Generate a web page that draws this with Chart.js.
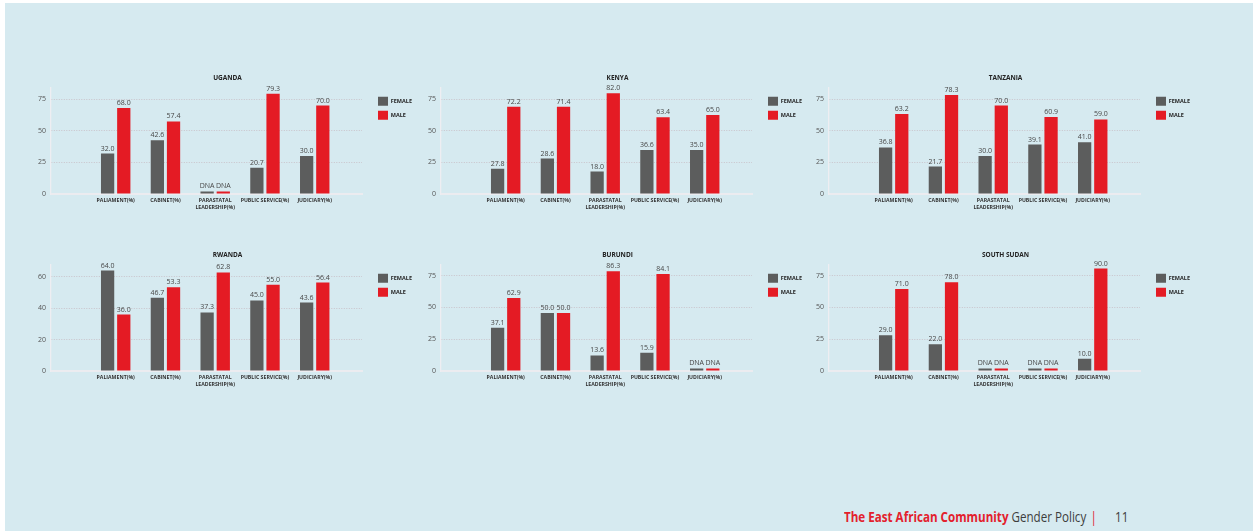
<!DOCTYPE html>
<html>
<head>
<meta charset="utf-8">
<script src="https://cdn.jsdelivr.net/npm/chart.js@4.4.1/dist/chart.umd.min.js"></script>
<style>
  body { margin: 0; width: 1253px; height: 531px; background: #fff; overflow: hidden; position: relative; font-family: "Open Sans", sans-serif; }
  #page { position: absolute; left: 5px; top: 3px; right: 0; bottom: 0; background: #d6eaf0; }
  .box { position: absolute; width: 397px; height: 145px; }
  #footer { position: absolute; left: 844px; top: 507px; font-family: "Open Sans", sans-serif; font-size: 14px; color: #3d3d3d; white-space: nowrap; transform: scaleX(0.83); transform-origin: 0 0; }
  #footer .red { color: #e3202c; font-weight: bold; }
  #footer .bar { color: #e3202c; margin-left: 5px; }
  #footer .num { margin-left: 22px; }
</style>
</head>
<body>
<div id="page"></div>
<div class="box" style="left:29px; top:71px"><canvas id="uganda"></canvas></div>
<div class="box" style="left:419px; top:71px"><canvas id="kenya"></canvas></div>
<div class="box" style="left:807px; top:71px"><canvas id="tanzania"></canvas></div>
<div class="box" style="left:29px; top:248px"><canvas id="rwanda"></canvas></div>
<div class="box" style="left:419px; top:248px"><canvas id="burundi"></canvas></div>
<div class="box" style="left:807px; top:248px"><canvas id="southsudan"></canvas></div>
<div id="footer"><span class="red">The East African Community</span> Gender Policy<span class="bar">|</span><span class="num">11</span></div>
<script>
const categories = ['PALIAMENT(%)', 'CABINET(%)', ['PARASTATAL', 'LEADERSHIP(%)'], 'PUBLIC SERVICE(%)', 'JUDICIARY(%)'];

// bar heights as drawn; DNA (data not available) bars are drawn as a small stub
// in Kenya, Burundi and South Sudan the source draws bars shorter than the printed labels
const ugandaFemale = [32.0, 42.6, 2, 20.7, 30.0];
const ugandaMale = [68.0, 57.4, 2, 79.3, 70.0];
const ugandaFemaleText = ['32.0', '42.6', 'DNA', '20.7', '30.0'];
const ugandaMaleText = ['68.0', '57.4', 'DNA', '79.3', '70.0'];

const kenyaFemale = [20.0, 28.0, 17.7, 34.8, 34.8];
const kenyaMale = [69.1, 69.1, 79.7, 60.7, 62.5];
const kenyaFemaleText = ['27.8', '28.6', '18.0', '36.6', '35.0'];
const kenyaMaleText = ['72.2', '71.4', '82.0', '63.4', '65.0'];

const tanzaniaFemale = [36.8, 21.7, 30.0, 39.1, 41.0];
const tanzaniaMale = [63.2, 78.3, 70.0, 60.9, 59.0];
const tanzaniaFemaleText = ['36.8', '21.7', '30.0', '39.1', '41.0'];
const tanzaniaMaleText = ['63.2', '78.3', '70.0', '60.9', '59.0'];

const rwandaFemale = [64.0, 46.7, 37.3, 45.0, 43.6];
const rwandaMale = [36.0, 53.3, 62.8, 55.0, 56.4];
const rwandaFemaleText = ['64.0', '46.7', '37.3', '45.0', '43.6'];
const rwandaMaleText = ['36.0', '53.3', '62.8', '55.0', '56.4'];

const burundiFemale = [34.1, 45.7, 12.3, 14.4, 2];
const burundiMale = [57.5, 45.7, 78.5, 76.4, 2];
const burundiFemaleText = ['37.1', '50.0', '13.6', '15.9', 'DNA'];
const burundiMaleText = ['62.9', '50.0', '86.3', '84.1', 'DNA'];

const southSudanFemale = [28.1, 21.0, 2, 2, 9.7];
const southSudanMale = [64.6, 69.8, 2, 2, 80.6];
const southSudanFemaleText = ['29.0', '22.0', 'DNA', 'DNA', '10.0'];
const southSudanMaleText = ['71.0', '78.0', 'DNA', 'DNA', '90.0'];

const FONT = 'Open Sans';
const GREY = '#5c5d5d';
const RED = '#e41b24';

// value labels above each bar
const barLabels = {
    id: 'barLabels',
    afterDatasetsDraw(chart) {
        const ctx = chart.ctx;
        ctx.save();
        ctx.font = '7px "' + FONT + '"';
        ctx.fillStyle = '#474747';
        ctx.textAlign = 'center';
        ctx.textBaseline = 'bottom';
        chart.data.datasets.forEach((ds, di) => {
            chart.getDatasetMeta(di).data.forEach((bar, i) => {
                ctx.fillText(ds.texts[i], bar.x, bar.y - 1.5);
            });
        });
        ctx.restore();
    }
};

// keep the legend a fixed width and set it a little away from the plot
const legendSpacing = {
    id: 'legendSpacing',
    afterInit(chart) {
        const legend = chart.legend;
        const fit = legend.fit;
        legend.fit = function () { fit.call(this); this.width = 64; };
    },
    afterLayout(chart) {
        chart.legend.left += 11;
        chart.legend.top += 4.4;
    }
};

function drawCountry(id, title, female, femaleText, male, maleText, yMax, yStep) {
    new Chart(document.getElementById(id), {
        type: 'bar',
        data: {
            datasets: [
                {
                    label: 'FEMALE',
                    data: female.map((v, i) => ({ x: i, y: v })),
                    texts: femaleText,
                    backgroundColor: GREY
                },
                {
                    label: 'MALE',
                    data: male.map((v, i) => ({ x: i, y: v })),
                    texts: maleText,
                    backgroundColor: RED
                }
            ]
        },
        options: {
            responsive: true,
            maintainAspectRatio: false,
            animation: false,
            categoryPercentage: 0.65,
            barPercentage: 0.82,
            plugins: {
                title: {
                    display: true,
                    text: title,
                    color: '#222',
                    font: { family: FONT, size: 6.5, weight: 'bold' },
                    padding: { top: 3.5, bottom: 5 }
                },
                legend: {
                    position: 'right',
                    align: 'start',
                    fullSize: false,
                    labels: {
                        boxWidth: 10,
                        boxHeight: 9,
                        padding: 5,
                        color: '#222',
                        font: { family: FONT, size: 5.5, weight: 'bold' }
                    }
                },
                tooltip: { enabled: false }
            },
            scales: {
                x: {
                    type: 'linear',
                    min: -1.3,
                    max: 4.95,
                    offset: false,
                    grid: { display: false, offset: false, drawTicks: false },
                    border: { color: '#ececf0', width: 2 },
                    afterBuildTicks: s => { s.ticks = categories.map((c, i) => ({ value: i })); },
                    afterFit: s => { s.height = 22; },
                    ticks: {
                        autoSkip: false,
                        maxRotation: 0,
                        padding: 3,
                        color: '#333',
                        font: { family: FONT, size: 5.2, weight: 'bold', lineHeight: 1.3 },
                        callback: v => categories[v]
                    }
                },
                y: {
                    min: 0,
                    max: yMax,
                    grid: { color: '#c9c3ca', drawTicks: false },
                    border: { color: '#eeeef2', width: 1.3, dash: [1, 1.5] },
                    afterBuildTicks: s => { s.ticks = s.ticks.filter(t => t.value % yStep === 0); },
                    afterFit: s => { s.width = 22; },
                    ticks: {
                        stepSize: yStep,
                        padding: 5,
                        color: '#555',
                        font: { family: FONT, size: 7 }
                    }
                }
            }
        },
        plugins: [barLabels, legendSpacing]
    });
}

drawCountry('uganda', 'UGANDA', ugandaFemale, ugandaFemaleText, ugandaMale, ugandaMaleText, 84.4, 25);
drawCountry('kenya', 'KENYA', kenyaFemale, kenyaFemaleText, kenyaMale, kenyaMaleText, 84.4, 25);
drawCountry('tanzania', 'TANZANIA', tanzaniaFemale, tanzaniaFemaleText, tanzaniaMale, tanzaniaMaleText, 84.4, 25);
drawCountry('rwanda', 'RWANDA', rwandaFemale, rwandaFemaleText, rwandaMale, rwandaMaleText, 68, 20);
drawCountry('burundi', 'BURUNDI', burundiFemale, burundiFemaleText, burundiMale, burundiMaleText, 84, 25);
drawCountry('southsudan', 'SOUTH SUDAN', southSudanFemale, southSudanFemaleText, southSudanMale, southSudanMaleText, 84, 25);
</script>
</body>
</html>
